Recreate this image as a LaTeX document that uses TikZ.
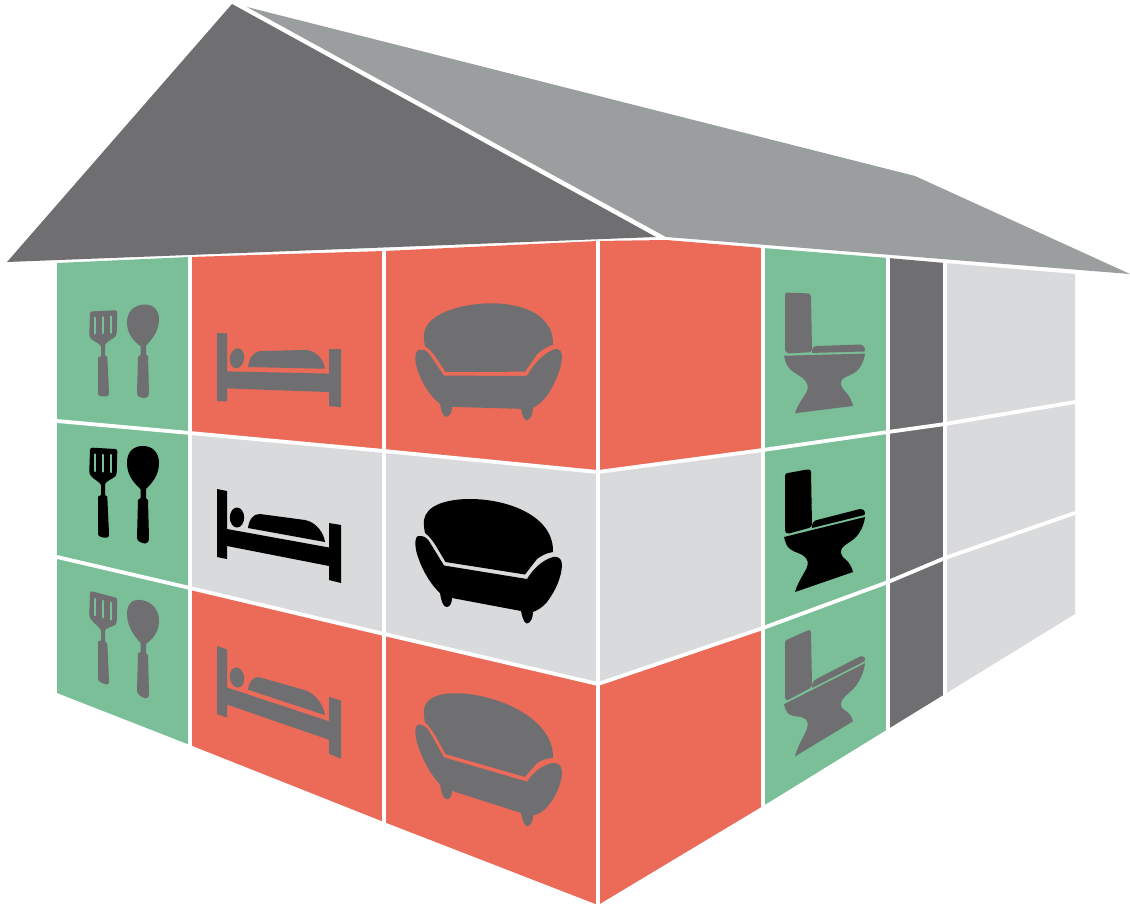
\documentclass[tikz,border=0pt]{standalone}
\definecolor{coral}{HTML}{EC6A58}
\definecolor{leaf}{HTML}{7ABF98}
\definecolor{pale}{HTML}{D9DADC}
\definecolor{slate}{HTML}{6F6F71}
\definecolor{roofgrey}{HTML}{9A9E9E}
\tikzset{wallline/.style={draw=white,line width=3.8pt,line cap=butt}}
\newcommand\shearscope[7]{%
  \pgfmathsetmacro\myT{-(#4)-(#5)+(#2)*(#4)+(#1)*(#3)}%
  \pgfmathsetmacro\myB{-1*(#1)}%
  \begin{scope}[cm={1,\myB,0,#2,(0pt,\myT pt)},fill=#6]#7\end{scope}}
\newcommand\utensils{%
  \fill (90,450) .. controls (90,448.5) and (91,447.7) .. (92.7,447.7) -- (115,449) .. controls (116.5,449.2) and (117.3,450) .. (117.3,451.7) -- (116.7,473) .. controls (116.5,476) and (115,477) .. (113,478) .. controls (109,480.5) and (105,482) .. (105,485) -- (105,495) -- (107.3,496.7) -- (109,533) .. controls (109,536.5) and (108.5,537.7) .. (106.7,537.7) .. controls (102,537.7) and (98,536.5) .. (98,534) -- (98,496.7) -- (101,495) -- (101,485) .. controls (100,482) and (94,479.5) .. (91.7,476.7) .. controls (90,475) and (89.3,473.5) .. (89.3,471.7) -- cycle;
  \draw[leaf,line width=2.2pt,line cap=round] (95.3,454.5) -- (95.3,471);
  \draw[leaf,line width=2.2pt,line cap=round] (103,455) -- (103,471.5);
  \draw[leaf,line width=2.2pt,line cap=round] (110.8,455) -- (110.8,472);
  \fill (140.5,489) .. controls (135,484) and (127,476) .. (127,463) .. controls (127,452) and (133,446) .. (143,446) .. controls (153,446) and (159,453) .. (159,463) .. controls (159,476) and (151,484) .. (146,489) -- (146,498) -- (148,500) -- (149,538) .. controls (149,542) and (147,543.5) .. (145,543.5) .. controls (141,543) and (137,541) .. (137,538) -- (138,500) -- (140.5,498) -- cycle;
}
\newcommand\bedicon{%
  \fill (217,489) -- (227,491) -- (227,529) -- (329,547.5) -- (329,523) -- (341,525) -- (341,583) -- (329,580) -- (329,566) -- (227,546) -- (227,559) -- (217,557) -- cycle;
  \fill (237,517.5) ellipse [x radius=7.2,y radius=10];
  \fill (248,528) .. controls (249,520) and (253,513.5) .. (260,514) -- (305,520) .. controls (316,522) and (324,533) .. (325,542) -- cycle;
}
\newcommand\sofaicon{%
  \fill (425,533) .. controls (424,528) and (423.5,524) .. (424,520) .. controls (426,506) and (445,499) .. (470,499) .. controls (508,499) and (554,516) .. (553,552) .. controls (546,553) and (541,556) .. (537,559) -- (525,574.5) -- (445.5,562) -- (436,546) .. controls (433,541) and (429,536) .. (425,533) -- cycle;
  \fill (418,536) .. controls (423,535.5) and (426,537) .. (429,541) -- (444,565.5) -- (527,579) .. controls (532,571) and (540,561) .. (553,557) .. controls (560,556) and (562,560) .. (562,566) .. controls (561,578) and (556,590) .. (547,602) .. controls (543,607) and (538,610) .. (533,612) .. controls (533,617) and (531,623) .. (527,623.5) .. controls (523.5,623) and (522,616) .. (521,611) -- (452,598) .. controls (452,603) and (450,607) .. (446.5,607) .. controls (443,607) and (441,600) .. (440,593) .. controls (432,586) and (423,572) .. (418,557) .. controls (415,549) and (414,538) .. (418,536) -- cycle;
}
\newcommand\toileticon{%
  \fill (785,476) .. controls (785,474) and (786,473) .. (788,473) -- (807,469.5) .. controls (810,469) and (811,470) .. (811,472) -- (812,524) .. controls (812,526) and (811,527.5) .. (809,528) -- (789,533.5) .. controls (786,534) and (785,532) .. (785,530) -- cycle;
  \fill (812,528) .. controls (812,523) and (813,521) .. (817,520) -- (860,509) .. controls (864,509) and (866,512) .. (864.5,515) -- cycle;
  \fill (784,537) -- (865,517) .. controls (864,525) and (861,531) .. (857,536) .. controls (853,541) and (845,544) .. (842,548) .. controls (840,552) and (841,556) .. (845,559) .. controls (850,563) and (852,568) .. (853,572) -- (795,592) .. controls (797,585) and (801,578) .. (804,573) .. controls (808,567) and (809,562) .. (806,558) .. controls (802,553) and (795,553) .. (790,549) .. controls (786,546) and (785,541) .. (784,537) -- cycle;
}
\begin{document}
\begin{tikzpicture}[x=1pt,y=-1pt]
\path[use as bounding box,fill=white] (0,0) rectangle (1130,907);
% roof
\fill[slate] (232,4) -- (656,237) -- (7,262) -- cycle;
\fill[roofgrey] (247,7) -- (915,176) -- (1130,274) -- (666,237) -- cycle;
% left wall
\fill[leaf] (57,263) -- (190,257) -- (190,745) -- (57,693) -- cycle;
\fill[coral] (190,257) -- (384,251) -- (384,450) -- (190,433) -- cycle;
\fill[coral] (384,251) -- (598,241) -- (598,472) -- (384,451) -- cycle;
\fill[pale] (190,433) -- (384,451) -- (598,472) -- (598,684) -- (384,634) -- (190,588) -- cycle;
\fill[coral] (190,588) -- (384,634) -- (598,684) -- (598,905) -- (384,822) -- (190,745) -- cycle;
% right wall
\fill[coral] (598,241) -- (666,240) -- (763,248) -- (763,450) -- (598,472) -- cycle;
\fill[pale] (598,472) -- (763,450) -- (763,628) -- (598,684) -- cycle;
\fill[coral] (598,684) -- (763,628) -- (763,806) -- (598,905) -- cycle;
\fill[leaf] (763,248) -- (888,258) -- (888,729) -- (763,806) -- cycle;
\fill[slate] (888,258) -- (945,263) -- (945,694) -- (888,729) -- cycle;
\fill[pale] (945,263) -- (1075,274) -- (1075,614) -- (945,694) -- cycle;
% wall lines
\draw[wallline] (57,421) -- (190,433) -- (384,451) -- (598,472) -- (763,450) -- (888,432) -- (945,424) -- (1075,402);
\draw[wallline] (57,557) -- (190,588) -- (384,634) -- (598,684) -- (763,628) -- (888,582) -- (945,558) -- (1075,513);
\draw[wallline] (190,256) -- (190,750);
\draw[wallline] (384,249.5) -- (384,826);
\draw[wallline] (598,240) -- (598,910);
\draw[wallline] (763,246) -- (763,810);
\draw[wallline] (888,256.5) -- (888,733);
\draw[wallline] (945,261.5) -- (945,698);
% icons: top row
\shearscope{-0.1}{0.96}{89}{447}{-136}{slate}{\utensils}
\shearscope{-0.16}{1}{217}{489}{-156}{slate}{\bedicon}
\shearscope{-0.16}{1}{445}{562}{-190}{slate}{\sofaicon}
\shearscope{0.22}{1}{785}{473}{-181}{slate}{\toileticon}
% middle row
\shearscope{0}{1}{89}{447}{0}{black}{\utensils}
\shearscope{0}{1}{217}{489}{0}{black}{\bedicon}
\shearscope{0}{1}{445}{562}{0}{black}{\sofaicon}
\shearscope{0}{1}{785}{473}{0}{black}{\toileticon}
% bottom row
\shearscope{0.21}{1}{89}{447}{143}{slate}{\utensils}
\shearscope{0.15}{1}{217}{489}{157}{slate}{\bedicon}
\shearscope{0.13}{1}{445}{562}{192}{slate}{\sofaicon}
\shearscope{-0.26}{1}{785}{473}{167}{slate}{\toileticon}
\end{tikzpicture}
\end{document}
